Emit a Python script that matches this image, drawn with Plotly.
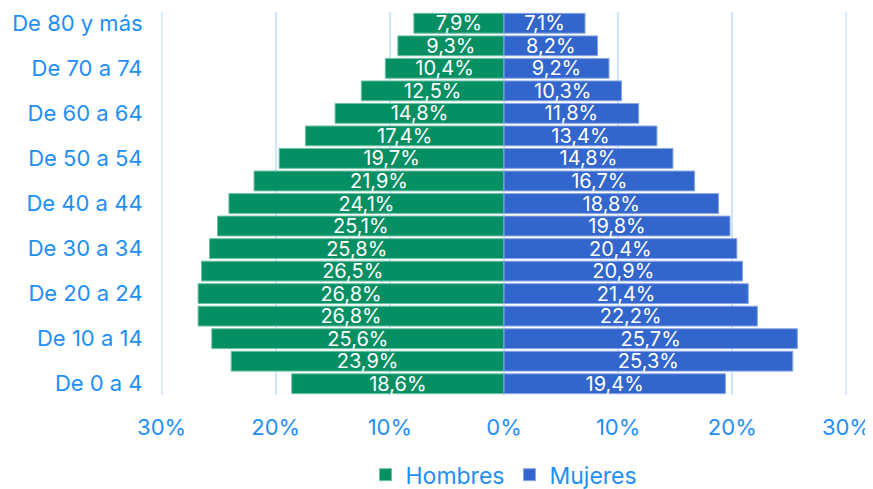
import plotly.graph_objects as go

ages = [
    "De 0 a 4", "De 5 a 9", "De 10 a 14", "De 15 a 19", "De 20 a 24",
    "De 25 a 29", "De 30 a 34", "De 35 a 39", "De 40 a 44", "De 45 a 49",
    "De 50 a 54", "De 55 a 59", "De 60 a 64", "De 65 a 69", "De 70 a 74",
    "De 75 a 79", "De 80 y más",
]
hombres = [18.6, 23.9, 25.6, 26.8, 26.8, 26.5, 25.8, 25.1, 24.1, 21.9,
           19.7, 17.4, 14.8, 12.5, 10.4, 9.3, 7.9]
mujeres = [19.4, 25.3, 25.7, 22.2, 21.4, 20.9, 20.4, 19.8, 18.8, 16.7,
           14.8, 13.4, 11.8, 10.3, 9.2, 8.2, 7.1]
x_ticks = [-30, -20, -10, 0, 10, 20, 30]
x_labels = ["30%", "20%", "10%", "0%", "10%", "20%", "30%"]

BLUE_TEXT = "#1e8ff5"
GRID = "#cfe6fb"
FONT = "Inter"


def pct(v):
    return f"{v:.1f}%".replace(".", ",")


fig = go.Figure()
fig.add_trace(go.Bar(
    y=ages, x=[-v for v in hombres], orientation="h", name="Hombres",
    text=[pct(v) for v in hombres], textposition="inside",
    insidetextanchor="middle",
    marker={"color": "#078f64", "line": {"color": "#6cc3a6", "width": 1}},
    textfont={"color": "white", "size": 20, "family": FONT},
    hoverinfo="skip",
))
fig.add_trace(go.Bar(
    y=ages, x=mujeres, orientation="h", name="Mujeres",
    text=[pct(v) for v in mujeres], textposition="inside",
    insidetextanchor="middle",
    marker={"color": "#3366cc", "line": {"color": "#8aa6e6", "width": 1}},
    textfont={"color": "white", "size": 20, "family": FONT},
    hoverinfo="skip",
))

# outer gridlines at the range ends are not drawn by plotly, add them
for edge in (x_ticks[0], x_ticks[-1]):
    fig.add_vline(x=edge, line_color=GRID, line_width=2, layer="below")

# the page body adds 8px of margin, so the figure is sized 8px smaller
fig.update_layout(
    barmode="relative",
    bargap=0.12,
    width=865,
    height=481,
    plot_bgcolor="white",
    paper_bgcolor="white",
    margin={"l": 153, "r": 26, "t": 4, "b": 94, "autoexpand": False},
    font={"family": FONT, "color": BLUE_TEXT, "size": 21},
    uniformtext={"minsize": 20, "mode": "show"},
    xaxis={
        "range": [-30.05, 30.05], "tickvals": x_ticks, "ticktext": x_labels,
        "showgrid": True, "gridcolor": GRID, "gridwidth": 2,
        "zeroline": False, "ticks": "outside", "ticklen": 13,
        "tickcolor": "rgba(0,0,0,0)",
        "tickfont": {"size": 22}, "automargin": False,
        "fixedrange": True,
    },
    yaxis={
        "tickvals": ages[::2], "showgrid": False, "ticks": "outside",
        "ticklen": 13, "tickcolor": "rgba(0,0,0,0)", "tickfont": {"size": 22},
        "automargin": False, "fixedrange": True,
    },
    legend={
        "orientation": "h", "x": 0.5, "xanchor": "center",
        "y": -0.152, "yanchor": "top",
        "font": {"size": 23}, "traceorder": "normal", "itemwidth": 30,
    },
)

fig.write_html("out.html")
